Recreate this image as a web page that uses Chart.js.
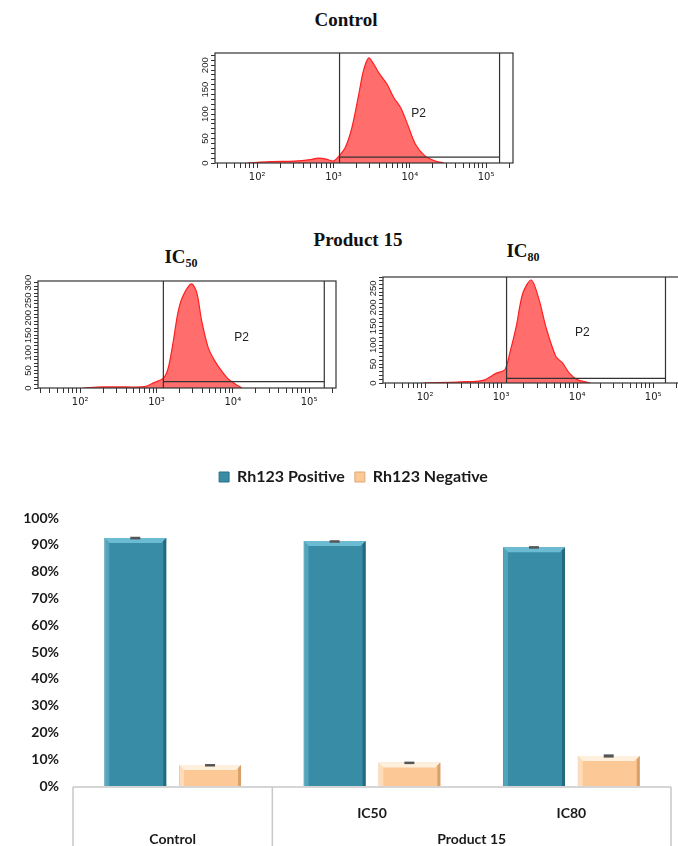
<!DOCTYPE html>
<html>
<head>
<meta charset="utf-8">
<script src="https://cdn.jsdelivr.net/npm/chart.js@4.4.1/dist/chart.umd.min.js"></script>
<style>
  body { margin: 0; width: 678px; height: 846px; overflow: hidden; background: #fff; position: relative; }
  .ttl { position: absolute; transform: translate(-50%, -50%); white-space: nowrap;
         font-family: "Liberation Serif", serif; font-weight: bold; font-size: 19px; color: #111; }
  .ttl sub { font-size: 12px; vertical-align: -4px; }
  canvas { position: absolute; }
</style>
</head>
<body>
<div class="ttl" style="left:346px;top:20px">Control</div>
<div class="ttl" style="left:358px;top:240px">Product 15</div>
<div class="ttl" style="left:181px;top:258px">IC<sub>50</sub></div>
<div class="ttl" style="left:523px;top:252px">IC<sub>80</sub></div>

<canvas id="hist-control" width="345" height="150" style="left:180px;top:45px"></canvas>
<canvas id="hist-ic50" width="345" height="147" style="left:3px;top:273px"></canvas>
<canvas id="hist-ic80" width="344" height="146" style="left:348px;top:269px"></canvas>
<canvas id="bars" width="678" height="391" style="left:0;top:455px"></canvas>

<script>
/* ── histogram data (Rh123 intensity vs count) ── */
const controlX = [75, 150, 310, 500, 630, 800, 1000, 1180, 1420, 1740, 2140, 2460, 2880, 3380, 3900, 5000, 6150, 7600, 9300, 11800, 15900, 21700, 28000];
const controlY = [0, 3, 4, 7, 10, 8, 4, 14, 31, 72, 140, 188, 215, 202, 185, 162, 134, 113, 80, 39, 14, 4, 0];

const ic50X = [110, 200, 400, 700, 940, 1230, 1420, 1650, 1910, 2220, 2870, 3370, 3910, 4760, 5850, 7160, 8770, 10800, 13200];
const ic50Y = [0, 3, 3, 4, 16, 28, 56, 130, 215, 262, 297, 272, 191, 115, 76, 48, 25, 11, 0];

const ic80X = [95, 300, 580, 870, 1120, 1300, 1580, 1930, 2500, 3170, 3870, 5250, 6420, 7900, 10000, 13500, 15000];
const ic80Y = [0, 3, 7, 26, 35, 79, 149, 237, 272, 219, 149, 70, 53, 26, 9, 2, 0];

const histYMax = [225, 305, 280];
const histYLabels = [0, 50, 100, 150, 200, 250, 300];
const logTicks = [30, 40, 50, 60, 70, 80, 90,
  100, 200, 300, 400, 500, 600, 700, 800, 900,
  1000, 2000, 3000, 4000, 5000, 6000, 7000, 8000, 9000,
  10000, 20000, 30000, 40000, 50000, 60000, 70000, 80000, 90000,
  100000, 200000];
const decadeLabels = { 100: '10²', 1000: '10³', 10000: '10⁴', 100000: '10⁵' };

// P2 gate: low edge, high edge, level; label position
const gateLo = [1200, 1230, 1180];
const gateHi = [150000, 158000, 145000];
const gateLevel = [12, 18, 12];
const p2Pos = [[13000, 100], [13000, 143], [11700, 134]];

/* ── bar chart data ── */
const barLabels = ['', 'IC50', 'IC80'];
const groupNames = ['Control', 'Product 15'];
const groupSpans = [[0, 0], [1, 2]];
const positive = [92.5, 91.4, 89.1];
const negative = [7.8, 8.8, 11.2];
const positiveErr = [0.5, 0.3, 0.4];
const negativeErr = [0.4, 0.3, 0.6];
const yTicks = [0, 10, 20, 30, 40, 50, 60, 70, 80, 90, 100];

const gatePlugin = {
  id: 'gateBox',
  afterDatasetsDraw(chart, args, o) {
    const { ctx, chartArea: a, scales: { x, y } } = chart;
    ctx.save();
    ctx.strokeStyle = '#333';
    ctx.lineWidth = 1.2;
    ctx.strokeRect(a.left, a.top, a.width, a.height);
    const gx0 = x.getPixelForValue(o.lo), gx1 = x.getPixelForValue(o.hi), gy = y.getPixelForValue(o.level);
    ctx.beginPath();
    ctx.moveTo(gx0, a.top); ctx.lineTo(gx0, a.bottom);
    ctx.moveTo(gx1, a.top); ctx.lineTo(gx1, a.bottom);
    ctx.moveTo(gx0, gy); ctx.lineTo(gx1, gy);
    ctx.stroke();
    ctx.fillStyle = '#222';
    ctx.textAlign = 'center';
    ctx.textBaseline = 'middle';
    ctx.font = '12px "Liberation Sans"';
    ctx.fillText('P2', x.getPixelForValue(o.p2[0]), y.getPixelForValue(o.p2[1]));
    // rotated count labels
    ctx.font = '9.5px "Liberation Sans"';
    histYLabels.filter(v => v <= o.ymax).forEach(v => {
      ctx.save();
      ctx.translate(a.left - 10, y.getPixelForValue(v));
      ctx.rotate(-Math.PI / 2);
      ctx.fillText(String(v), 0, 0);
      ctx.restore();
    });
    ctx.restore();
  }
};

function makeHist(id, xs, ys, idx) {
  new Chart(document.getElementById(id), {
    type: 'line',
    data: {
      datasets: [{
        data: xs.map((v, i) => ({ x: v, y: ys[i] })),
        borderColor: '#ff1f1f', backgroundColor: 'rgba(255,60,60,0.75)',
        borderWidth: 1.2, fill: 'origin', pointRadius: 0, tension: 0.3
      }]
    },
    options: {
      responsive: false, animation: false,
      layout: { padding: { top: 8, right: 12, left: 5, bottom: 0 } },
      plugins: {
        legend: { display: false }, tooltip: { enabled: false },
        gateBox: { lo: gateLo[idx], hi: gateHi[idx], level: gateLevel[idx], p2: p2Pos[idx], ymax: histYMax[idx] }
      },
      scales: {
        x: {
          type: 'logarithmic', min: 28, max: 225000,
          afterBuildTicks: s => { s.ticks = logTicks.map(v => ({ value: v })); },
          afterFit: s => { s.height = 32; },
          grid: { drawOnChartArea: false, tickLength: 5, color: '#333' },
          border: { display: false },
          ticks: { autoSkip: false, maxRotation: 0, padding: 3, color: '#222',
                   font: { family: 'DejaVu Sans', size: 10 },
                   callback: v => decadeLabels[v] || '' }
        },
        y: {
          min: 0, max: histYMax[idx],
          ticks: { stepSize: 10, display: false, includeBounds: false },
          afterFit: s => { s.width = 30; },
          grid: { drawOnChartArea: false, tickLength: 4, color: '#333' },
          border: { display: false }
        }
      }
    },
    plugins: [gatePlugin]
  });
}

makeHist('hist-control', controlX, controlY, 0);
makeHist('hist-ic50', ic50X, ic50Y, 1);
makeHist('hist-ic80', ic80X, ic80Y, 2);

/* ── bar extras: bevel, error caps, two-level category table ── */
const bevel = [['#6bbcd3', '#23697f'], ['#fff0dd', '#d9a06a']];
const barExtras = {
  id: 'barExtras',
  beforeInit(chart) {
    const lg = chart.legend;
    const fit = lg.fit, draw = lg.draw;
    lg.fit = function () { fit.call(this); this.height += 23; };
    lg.draw = function () { this.ctx.save(); this.ctx.translate(16, 0); draw.call(this); this.ctx.restore(); };
  },
  afterDatasetsDraw(chart) {
    const { ctx, scales: { y } } = chart;
    const errs = [positiveErr, negativeErr];
    ctx.save();
    chart.data.datasets.forEach((ds, di) => {
      chart.getDatasetMeta(di).data.forEach((bar, i) => {
        const l = bar.x - bar.width / 2, r = bar.x + bar.width / 2, t = bar.y, b = bar.base, k = 5;
        ctx.fillStyle = bevel[di][0];
        ctx.beginPath(); ctx.moveTo(l, t); ctx.lineTo(r, t); ctx.lineTo(r - k, t + k); ctx.lineTo(l + k, t + k); ctx.fill();
        ctx.globalAlpha = 0.5;
        ctx.beginPath(); ctx.moveTo(l, t); ctx.lineTo(l + k, t + k); ctx.lineTo(l + k, b); ctx.lineTo(l, b); ctx.fill();
        ctx.globalAlpha = 1;
        ctx.fillStyle = bevel[di][1];
        ctx.beginPath(); ctx.moveTo(r, t); ctx.lineTo(r, b); ctx.lineTo(r - 3, b); ctx.lineTo(r - 3, t + 3); ctx.fill();
        const v = ds.data[i], e = errs[di][i];
        const y0 = y.getPixelForValue(v + e), y1 = y.getPixelForValue(v - e);
        ctx.fillStyle = '#555';
        ctx.fillRect(bar.x - 5, y0, 10, Math.max(y1 - y0, 2.5));
      });
    });
    ctx.restore();
  },
  afterDraw(chart) {
    const { ctx, chartArea: a, scales: { x } } = chart;
    const bottom = chart.height;
    const edge = i => (x.getPixelForValue(i) + x.getPixelForValue(i + 1)) / 2;
    const right = a.right;
    ctx.save();
    ctx.strokeStyle = '#c8c8c8';
    ctx.lineWidth = 1.5;
    ctx.beginPath();
    ctx.moveTo(a.left, a.bottom + 1); ctx.lineTo(right, a.bottom + 1);
    ctx.moveTo(a.left, a.bottom + 1); ctx.lineTo(a.left, bottom);
    ctx.moveTo(edge(0), a.bottom + 1); ctx.lineTo(edge(0), bottom);
    ctx.moveTo(right, a.bottom + 1); ctx.lineTo(right, bottom);
    ctx.stroke();
    ctx.fillStyle = '#1a1a1a';
    ctx.font = 'bold 14px Lato';
    ctx.textAlign = 'center';
    ctx.textBaseline = 'middle';
    groupNames.forEach((g, i) => {
      const [s, e] = groupSpans[i];
      const cx = (x.getPixelForValue(s) + x.getPixelForValue(e)) / 2;
      ctx.fillText(g, cx, bottom - 7);
    });
    ctx.restore();
  }
};

new Chart(document.getElementById('bars'), {
  type: 'bar',
  data: {
    labels: barLabels,
    datasets: [
      { label: 'Rh123 Positive', data: positive, backgroundColor: '#388ca6', borderColor: '#2b7087', borderWidth: 1 },
      { label: 'Rh123 Negative', data: negative, backgroundColor: '#fcc896', borderColor: '#dfa978', borderWidth: 1 }
    ]
  },
  options: {
    responsive: false, animation: false,
    categoryPercentage: 0.75, barPercentage: 0.83,
    layout: { padding: { top: 4, left: 4, right: 7, bottom: 0 } },
    plugins: {
      tooltip: { enabled: false },
      legend: {
        position: 'top',
        labels: { boxWidth: 10, boxHeight: 10, padding: 10, color: '#1a1a1a',
                  font: { family: 'Lato', size: 16, weight: 'bold' } }
      }
    },
    scales: {
      x: {
        afterFit: s => { s.height = 60; },
        grid: { display: false, drawTicks: false }, border: { display: false },
        ticks: { padding: 19, color: '#1a1a1a', font: { family: 'Lato', size: 14, weight: 'bold' } }
      },
      y: {
        min: 0, max: 100,
        afterBuildTicks: s => { s.ticks = yTicks.map(v => ({ value: v })); },
        afterFit: s => { s.width = 69; },
        grid: { display: false, drawTicks: false }, border: { display: false },
        ticks: { padding: 14, color: '#1a1a1a', font: { family: 'Lato', size: 14, weight: 'bold' },
                 callback: v => v + '%' }
      }
    }
  },
  plugins: [barExtras]
});
</script>
</body>
</html>
